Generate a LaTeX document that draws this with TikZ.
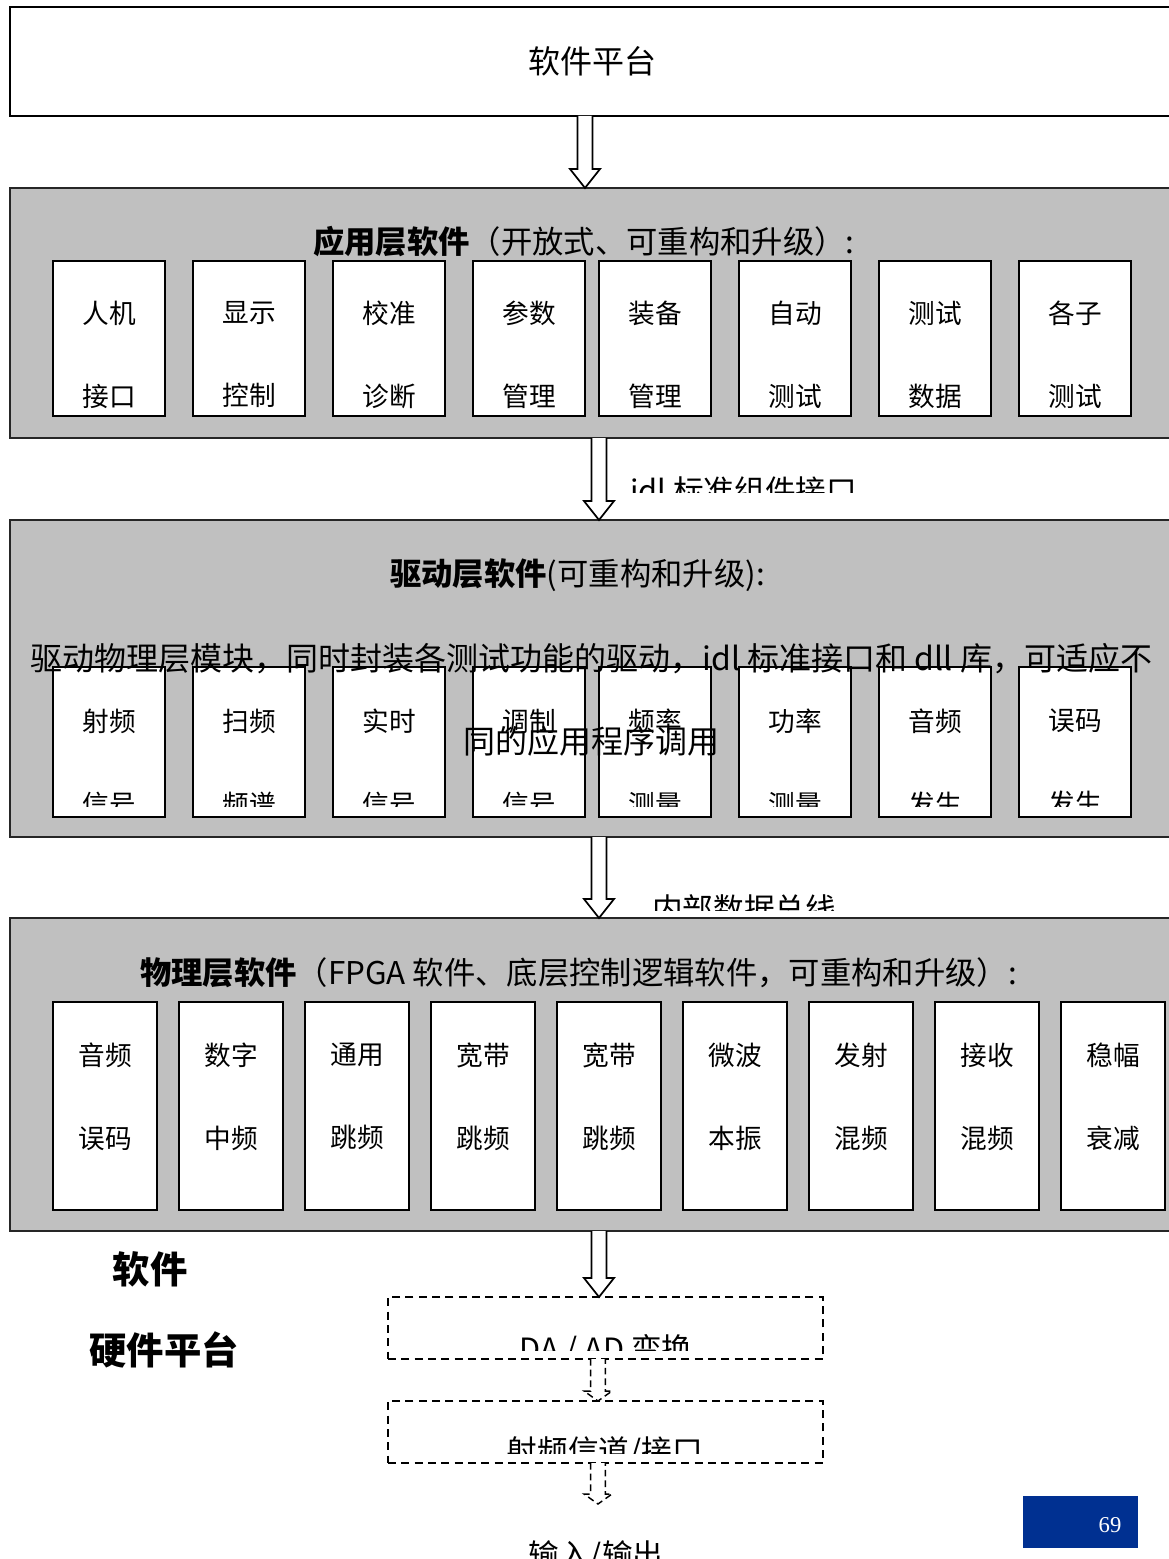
\documentclass[tikz,border=0pt]{standalone}
\usepackage{fontspec}
\setmainfont{Noto Sans CJK SC}
\newfontfamily\numfont{Liberation Serif}
\usetikzlibrary{calc}
\definecolor{panelgray}{HTML}{C0C0C0}
\definecolor{pageblue}{RGB}{0,48,145}
\newcommand\hollowarrow[6]{%
 \draw[#1] let \p1=(#2), \p2=(#3) in (\x1-#4,\y1) -- (\x1-#4,\y2+#6) -- (\x1-#5,\y2+#6) -- (\x1,\y2) -- (\x1+#5,\y2+#6) -- (\x1+#4,\y2+#6) -- (\x1+#4,\y1);}
\begin{document}
\begin{tikzpicture}[x=0.75pt,y=-0.75pt,
  panel/.style={draw=black!85,line width=1.3pt,fill=panelgray,inner sep=0pt,outer sep=0pt,anchor=north west,minimum width=873pt},
  topbox/.style={draw=black,line width=1.3pt,fill=white,inner sep=0pt,outer sep=0pt,anchor=north west,minimum width=873pt,font=\fontsize{24pt}{28pt}\selectfont},
  cell/.style={draw=black,line width=1.5pt,fill=white,inner sep=0pt,outer sep=0pt},
  celltext/.style={font=\fontsize{20pt}{62.25pt}\selectfont,align=center,inner sep=0pt},
  titletext/.style={font=\fontsize{23.5pt}{28pt}\selectfont,inner sep=0pt,anchor=west},
  bodytext/.style={font=\fontsize{24pt}{62.25pt}\selectfont,inner sep=0pt,align=center},
  bustext/.style={font=\fontsize{23pt}{28pt}\selectfont,inner sep=0pt,anchor=west},
  iotext/.style={font=\fontsize{23pt}{28pt}\selectfont,inner sep=0pt},
  dashbox/.style={draw=black,line width=1.1pt,dash pattern=on 6pt off 4pt,inner sep=0pt,outer sep=0pt,anchor=north west,minimum width=326.25pt,minimum height=46.5pt},
  sidetext/.style={font=\fontsize{28pt}{34pt}\selectfont\bfseries,inner sep=0pt},
  harrow/.style={draw=black,line width=1.3pt,fill=white},
  darrow/.style={draw=black,line width=1.1pt,dash pattern=on 5pt off 3pt,fill=white}]
\useasboundingbox (0,0) rectangle (1169,1559);
\clip (0,0) rectangle (1169,1559);
\fill[white] (0,0) rectangle (1169,1559);

% top box
\node[topbox,minimum height=81.75pt] (top) at (10,7) {软件平台};

% panel 1
\node[panel,minimum height=187.5pt] (p1) at (10,188) {};
\node[titletext] (t1) at (313,242) {\textbf{应用层软件}（开放式、可重构和升级）:};
\foreach \x/\a/\b [count=\i] in {109/人机/接口,249/显示/控制,389/校准/诊断,529/参数/管理,655/装备/管理,795/自动/测试,935/测试/数据,1075/各子/测试}{
  \node[cell,minimum width=84pt,minimum height=116.25pt] (r1b\i) at (\x,338.5) {};
  \node[celltext] (r1l\i) at (\x,354.5) {\a\\\b};
}

% panel 2
\node[panel,minimum height=237.75pt] (p2) at (10,520) {};
\node[titletext] (t2) at (390,575) {\textbf{驱动层软件}(可重构和升级):};
\foreach \x/\a/\b [count=\i] in {109/射频/信号,249/扫频/频谱,389/实时/信号,529/调制/信号,655/频率/测量,795/功率/测量,935/音频/发生,1075/误码/发生}{
  \node[cell,minimum width=84pt,minimum height=112.5pt] (r2b\i) at (\x,742) {};
}
\begin{scope}
\clip (0,600) rectangle (1169,806);
\foreach \x/\a/\b [count=\i] in {109/射频/信号,249/扫频/频谱,389/实时/信号,529/调制/信号,655/频率/测量,795/功率/测量,935/音频/发生,1075/误码/发生}{
  \node[celltext] (r2l\i) at (\x,762.5) {\a\\\b};
}
\end{scope}
\node[bodytext] (body) at (591.5,699.5) {驱动物理层模块，同时封装各测试功能的驱动，idl 标准接口和 dll 库，可适应不\\同的应用程序调用};

% panel 3
\node[panel,minimum height=234.75pt] (p3) at (10,918) {};
\node[titletext] (t3) at (140,973) {\textbf{物理层软件}（FPGA 软件、底层控制逻辑软件，可重构和升级）:};
\foreach \x/\a/\b [count=\i] in {105/音频/误码,231/数字/中频,357/通用/跳频,483/宽带/跳频,609/宽带/跳频,735/微波/本振,861/发射/混频,987/接收/混频,1113/稳幅/衰减}{
  \node[cell,minimum width=78pt,minimum height=156pt] (r3b\i) at (\x,1106) {};
  \node[celltext] (r3l\i) at (\x,1096.5) {\a\\\b};
}

% bus labels (clipped)
\begin{scope}
\clip (600,440) rectangle (1169,492);
\node[bustext] (lbl1) at (630,490.5) {idl 标准组件接口};
\end{scope}
\begin{scope}
\clip (600,840) rectangle (1169,910);
\node[bustext] (lbl2) at (652,908.5) {内部数据总线};
\end{scope}

% solid arrows
\hollowarrow{harrow}{$(top.south)+(-7,0)$}{$(p1.north)+(-7,0)$}{5.6pt}{11.25pt}{14.25pt}
\hollowarrow{harrow}{$(p1.south)+(7,0)$}{$(p2.north)+(7,0)$}{5.6pt}{11.25pt}{14.25pt}
\hollowarrow{harrow}{$(p2.south)+(7,0)$}{$(p3.north)+(7,0)$}{5.6pt}{11.25pt}{14.25pt}

% side labels
\node[sidetext] (sw) at (150,1269) {软件};
\node[sidetext] (hw) at (164,1350) {硬件平台};

% dashed boxes
\node[dashbox] (d1) at (388,1297) {};
\node[dashbox] (d2) at (388,1401) {};
\begin{scope}
\clip (390,1300) rectangle (820,1350);
\node[iotext] (d1l) at (606,1350) {DA / AD 变换};
\end{scope}
\begin{scope}
\clip (390,1404) rectangle (820,1453);
\node[iotext] (d2l) at (605,1452) {射频信道/接口};
\end{scope}
\node[iotext] (io) at (596,1556) {输入/输出};

\hollowarrow{harrow}{$(p3.south)+(7,0)$}{$(d1.north)+(-7,0)$}{5.6pt}{11.25pt}{14.25pt}
\hollowarrow{darrow}{$(d1.south)+(-7.5,0)$}{$(d2.north)+(-7.5,0)$}{5.6pt}{10.5pt}{7.5pt}
\coordinate (d3end) at (598,1504);
\hollowarrow{darrow}{$(d2.south)+(-7.5,0)$}{d3end}{5.6pt}{10.5pt}{7.5pt}

% page number
\node[fill=pageblue,inner sep=0pt,minimum width=86.25pt,minimum height=39pt] (pg) at (1080.5,1522) {};
\node[text=white,font=\numfont\fontsize{17pt}{20pt}\selectfont,inner sep=0pt] (pgn) at ($(pg.center)+(29.5,3)$) {69};
\end{tikzpicture}
\end{document}
